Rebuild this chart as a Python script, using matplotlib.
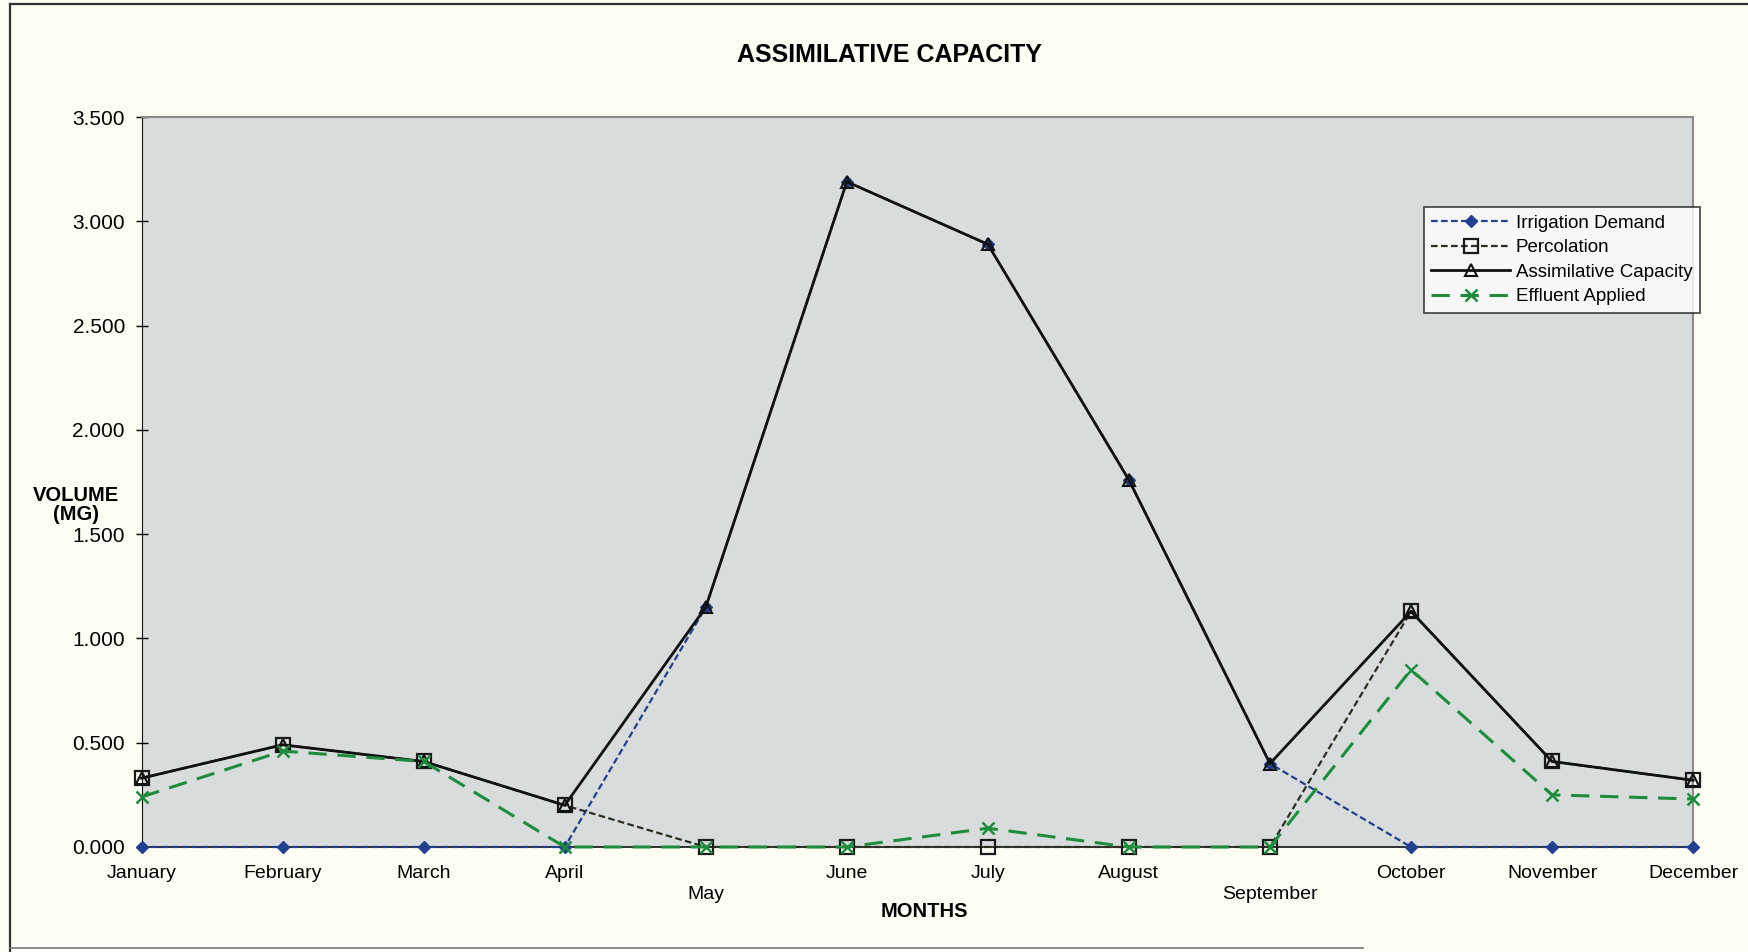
import numpy as np
import matplotlib
matplotlib.use("Agg")
import matplotlib.pyplot as plt
from matplotlib.lines import Line2D

plt.rcParams['font.family'] = ['Liberation Sans', 'DejaVu Sans']

# --- Dados ---
meses = ["January", "February", "March", "April", "May", "June", "July",
         "August", "September", "October", "November", "December"]
irrigation_demand = [0.0, 0.0, 0.0, 0.0, 1.15, 3.19, 2.89, 1.76, 0.40, 0.0, 0.0, 0.0]
percolation = [0.33, 0.49, 0.41, 0.20, 0.0, 0.0, 0.0, 0.0, 0.0, 1.13, 0.41, 0.32]
assimilative_capacity = [0.33, 0.49, 0.41, 0.20, 1.15, 3.19, 2.89, 1.76, 0.40, 1.13, 0.41, 0.32]
effluent_applied = [0.24, 0.46, 0.41, 0.0, 0.0, 0.0, 0.09, 0.0, 0.0, 0.85, 0.25, 0.23]
y_ticks = [0.0, 0.5, 1.0, 1.5, 2.0, 2.5, 3.0, 3.5]

x = np.arange(len(meses))

fig = plt.figure(figsize=(17.48, 9.52), dpi=100)
fig.patch.set_facecolor('#fdfdf4')
ax = fig.add_axes([0.081, 0.1103, 0.8876, 0.7667])
ax.set_facecolor('#d9dcdc')

azul = '#23408e'
oliva = '#2e2e22'
verde = '#1e8c3c'

ax.plot(x, irrigation_demand, color=azul, linestyle=(0, (3, 1.5)), linewidth=1.6,
        marker='D', markersize=6.5, markerfacecolor=azul, markeredgecolor=azul,
        label='Irrigation Demand', zorder=3, clip_on=False)
ax.plot(x, percolation, color=oliva, linestyle=(0, (3, 1.5)), linewidth=1.6,
        marker='s', markersize=10, markerfacecolor='none', markeredgecolor='#1a1a1a',
        markeredgewidth=1.6, label='Percolation', zorder=3, clip_on=False)
ax.plot(x, assimilative_capacity, color='#111111', linestyle='-', linewidth=2.0,
        marker='^', markersize=8, markerfacecolor='none', markeredgecolor='#111111',
        markeredgewidth=1.5, label='Assimilative Capacity', zorder=4, clip_on=False)
ax.plot(x, effluent_applied, color=verde, linestyle=(0, (6, 3.5)), linewidth=2.2,
        marker='x', markersize=9, markeredgewidth=1.8,
        label='Effluent Applied', zorder=5, clip_on=False)

ax.set_xlim(0, 11)
ax.set_ylim(0, 3.5)
ax.set_yticks(y_ticks)
ax.set_yticklabels([f"{v:.3f}" for v in y_ticks], fontsize=15)
ax.tick_params(axis='y', direction='inout', length=8, width=1, pad=8)

# Excel escalona os rótulos de May e September
rotulos = [("\n" + m) if m in ("May", "September") else m for m in meses]
ax.set_xticks(x)
ax.set_xticklabels(rotulos, fontsize=14, linespacing=1.3)
ax.tick_params(axis='x', length=0, pad=13)

for lado in ['top', 'right']:
    ax.spines[lado].set_color('#8a8a8a')
    ax.spines[lado].set_linewidth(1.5)
ax.spines['left'].set_color('#111111')
ax.spines['bottom'].set_color('#222222')
ax.spines['bottom'].set_linewidth(1.3)

fig.text(0.5087, 0.942, "ASSIMILATIVE CAPACITY", fontsize=18, fontweight='bold',
         ha='center', va='center')
fig.text(0.0435, 0.47, "VOLUME\n(MG)", fontsize=14.5, fontweight='bold',
         ha='center', va='center', linespacing=1.0)
fig.text(0.529, 0.043, "MONTHS", fontsize=14.5, fontweight='bold',
         ha='center', va='center')

leg = fig.legend(loc='upper right', bbox_to_anchor=(0.9725, 0.7826), fontsize=13.5,
                 frameon=True, fancybox=False, handlelength=4.2, borderpad=0.4,
                 labelspacing=0.4, handletextpad=0.3, borderaxespad=0)
leg.get_frame().set_edgecolor('#111111')
leg.get_frame().set_facecolor('white')
leg.get_frame().set_linewidth(1.2)

# borda externa do gráfico (área do gráfico)
fig.add_artist(Line2D([0.0057, 0.0057], [0.0, 0.9958], transform=fig.transFigure,
                      color='#333333', linewidth=1.6))
fig.add_artist(Line2D([0.0057, 1.0], [0.9958, 0.9958], transform=fig.transFigure,
                      color='#333333', linewidth=1.6))
fig.add_artist(Line2D([0.0057, 0.78], [0.004, 0.004], transform=fig.transFigure,
                      color='#777777', linewidth=1.2))

fig.savefig("out.png", dpi=100, facecolor=fig.get_facecolor())
